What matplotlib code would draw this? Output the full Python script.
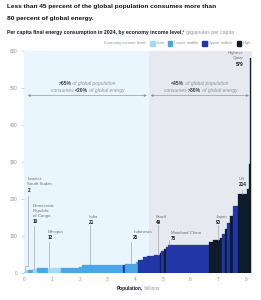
import numpy as np
import matplotlib
matplotlib.use('Agg')
import matplotlib.pyplot as plt
from matplotlib.offsetbox import TextArea, HPacker, AnnotationBbox, DrawingArea
from matplotlib.patches import Rectangle

plt.rcParams['font.family'] = ['Liberation Sans', 'DejaVu Sans']

# economies sorted by per capita energy use
# population (billions), gigajoules per capita, income level
pop = [0.02, 0.04, 0.06, 0.20, 0.11, 0.03, 0.39, 0.13, 0.36, 0.62, 0.12, 1.45, 0.05, 0.04, 0.13,
       0.28, 0.09, 0.18, 0.12, 0.27, 0.21, 0.05, 0.10, 0.07, 0.08, 1.45, 0.17, 0.12, 0.12, 0.07,
       0.10, 0.09, 0.12, 0.11, 0.16, 0.335, 0.05, 0.06, 0.03]
gj = [2, 4, 8, 9, 10, 11, 12.5, 12, 12.5, 14, 17, 21, 21.5, 22, 24,
      25, 30, 35, 42, 46, 49, 53, 60, 66, 70, 75, 84, 89, 90, 95,
      105, 118, 135, 155, 180, 214, 227, 295, 579]
level = ['Low', 'Low', 'Low', 'Lower middle', 'Low', 'Low', 'Lower middle', 'Low', 'Low',
         'Lower middle', 'Lower middle', 'Lower middle', 'Lower middle', 'Upper middle',
         'Lower middle', 'Lower middle', 'Lower middle', 'Upper middle', 'Upper middle',
         'Upper middle', 'Upper middle', 'High', 'Upper middle', 'High', 'Upper middle',
         'Upper middle', 'High', 'High', 'High', 'High', 'Upper middle', 'High', 'Upper middle',
         'High', 'Upper middle', 'High', 'High', 'High', 'High']

levels = ['Low', 'Lower middle', 'Upper middle', 'High']
colors = {'Low': '#a5d9f5', 'Lower middle': '#4aa6e5', 'Upper middle': '#2236a8', 'High': '#0d1b2b'}

# labelled economies: name lines, value, text x, first line y, align, leader x, leader top
lab_names = [['Lowest:', 'South Sudan'], ['Democratic', 'Republic', 'of Congo'], ['Ethiopia'],
             ['India'], ['Indonesia'], ['Brazil'], ['Mainland China'], ['Japan'], ['US'],
             ['Highest:', 'Qatar']]
lab_vals = ['2', '10', '12', '21', '25', '49', '75', '90', '214', '579']
lab_x = [0.11, 0.30, 0.83, 2.32, 3.93, 4.74, 5.28, 6.92, 7.73, 7.92]
lab_y = [253, 182, 110, 152, 110, 152, 109, 152, 253, 593]
lab_ha = ['left'] * 8 + ['left', 'right']
lead_x = [0.145, 0.36, 0.90, 2.38, 3.84, 4.82, 5.24, 7.00, 7.87, None]
lead_top = [208, 127, 85, 129, 85, 129, 88, 129, 224, None]
lead_bot = [19, 10, 12, 21, 25, 49, 75, 90, 214, None]

grey = '#8f949b'
dark = '#141a22'

fig = plt.figure(figsize=(2.61, 3.0), dpi=100)
ax = fig.add_axes([24.3 / 261, 27 / 300, 227.7 / 261, 222.3 / 300])

ax.axvspan(0, 4.5, color='#eaf6fd', zorder=0, lw=0)
ax.axvspan(4.5, 8.22, color='#e6e9f0', zorder=0, lw=0)

left = np.concatenate([[0], np.cumsum(pop)[:-1]])
ax.bar(left, gj, width=pop, align='edge', color=[colors[l] for l in level],
       edgecolor=[colors[l] for l in level], linewidth=0.2, zorder=2)

ax.set_xlim(0, 8.22)
ax.set_ylim(0, 600)
for s in ax.spines.values():
    s.set_visible(False)
ax.set_xticks(range(9))
ax.set_yticks(range(0, 601, 100))
ax.tick_params(axis='x', length=0, pad=3, labelsize=3.4, labelcolor=grey)
ax.tick_params(axis='y', length=2.2, width=0.4, color='#b5b9bf', pad=2.5, labelsize=3.4, labelcolor=grey)

# leaders and labels
step = 14
for i in range(len(lab_names)):
    y = lab_y[i]
    for line in lab_names[i]:
        ax.text(lab_x[i], y, line, ha=lab_ha[i], va='center', fontsize=3.2, color='#6d7279', zorder=5)
        y -= step
    ax.text(lab_x[i], y - 1, lab_vals[i], ha=lab_ha[i], va='center', fontsize=3.3,
            fontweight='bold', color=dark, zorder=5)
    if lead_x[i] is not None:
        ax.plot([lead_x[i], lead_x[i]], [lead_top[i], lead_bot[i]], color='#9a9ea4', lw=0.45, zorder=4)
ax.plot([0.145, 0.03, 0.03], [19, 19, 2], color='#9a9ea4', lw=0.45, zorder=4)


def mixed(parts, size):
    boxes = []
    for s, bold in parts:
        if bold:
            props = dict(fontsize=size, fontweight='bold', color='#3a4049')
        else:
            props = dict(fontsize=size, fontstyle='italic', color=grey)
        boxes.append(TextArea(s, textprops=props))
    return HPacker(children=boxes, pad=0, sep=0, align='baseline')


def put(box, xy, coords='data', align=(0.5, 0.5)):
    ab = AnnotationBbox(box, xy, xycoords=coords, frameon=False, pad=0, box_alignment=align)
    ax.add_artist(ab)


put(mixed([('>65%', True), (' of global population', False)], 3.6), (2.27, 511))
put(mixed([('consumes ', False), ('<20%', True), (' of global energy', False)], 3.6), (2.28, 492))
put(mixed([('<45%', True), (' of global population', False)], 3.6), (6.34, 511))
put(mixed([('consumes ', False), ('>80%', True), (' of global energy', False)], 3.6), (6.37, 492))

arrow = dict(arrowstyle='<|-|>', color='#8a8f96', lw=0.45, mutation_scale=3.5, shrinkA=0, shrinkB=0)
ax.annotate('', xy=(0.12, 479), xytext=(4.42, 479), arrowprops=arrow, zorder=5)
ax.annotate('', xy=(4.56, 479), xytext=(8.11, 479), arrowprops=arrow, zorder=5)

# x axis title
xl = HPacker(children=[TextArea('Population,', textprops=dict(fontsize=3.4, fontweight='bold', color=dark)),
                       TextArea(' billions', textprops=dict(fontsize=3.4, color=grey))],
             pad=0, sep=0, align='baseline')
put(xl, (0.5, -0.068), coords='axes fraction')

# titles
fig.text(7 / 261, 1 - 6.7 / 300, 'Less than 45 percent of the global population consumes more than',
         fontsize=4.65, fontweight='bold', color='#111111', va='center')
fig.text(7 / 261, 1 - 18.3 / 300, '80 percent of global energy.',
         fontsize=4.65, fontweight='bold', color='#111111', va='center')
sub = HPacker(children=[TextArea('Per capita final energy consumption in 2024, by economy income level,\u00b9 ',
                                 textprops=dict(fontsize=3.7, fontweight='bold', color=dark)),
                        TextArea('gigajoules per capita', textprops=dict(fontsize=3.7, color=grey))],
              pad=0, sep=0, align='baseline')
ab = AnnotationBbox(sub, (7 / 261, 1 - 32.3 / 300), xycoords='figure fraction', frameon=False,
                    pad=0, box_alignment=(0, 0.5))
fig.add_artist(ab)

# legend
items = [TextArea('Economy income level:', textprops=dict(fontsize=3.1, color=grey))]
for l in levels:
    da = DrawingArea(5.0, 3.4, 0, 0)
    da.add_artist(Rectangle((1.8, 0), 3.2, 3.2, color=colors[l]))
    items.append(da)
    items.append(TextArea(l, textprops=dict(fontsize=3.1, color=grey)))
leg = HPacker(children=items, pad=0, sep=1.0, align='center')
ab = AnnotationBbox(leg, (251 / 261, 1 - 43.3 / 300), xycoords='figure fraction', frameon=False,
                    pad=0, box_alignment=(1, 0.5))
fig.add_artist(ab)

fig.savefig('out.png', dpi=100)
